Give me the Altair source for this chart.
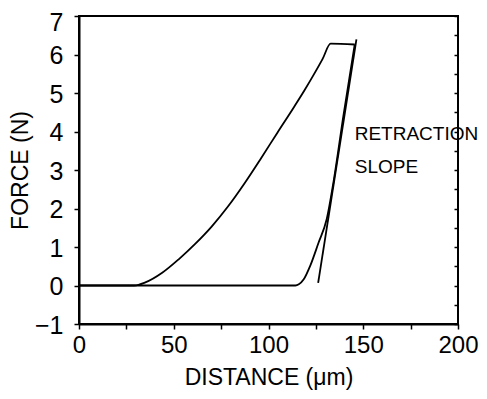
import altair as alt
import pandas as pd

# Loading curve
load_x = [0, 29.2, 35, 43.9, 52.6, 61.3, 70, 78.6, 87.3, 96, 104.7, 113.4, 119, 123.8, 128.5, 132.8, 145.5]
load_y = [0, 0, 0.08, 0.33, 0.68, 1.08, 1.53, 2.05, 2.65, 3.3, 3.97, 4.63, 5.07, 5.47, 5.88, 6.28, 6.26]

# Unloading curve
unload_x = [145.5, 139.5, 134.5, 130.7, 126.4, 122.0, 118.6, 116.0, 114.2, 0]
unload_y = [6.26, 4.4, 2.75, 1.72, 1.11, 0.51, 0.16, 0.03, 0, 0]

# Retraction slope line
slope_x = [126.2, 146.4]
slope_y = [0.07, 6.39]

x_ticks = [0, 25, 50, 75, 100, 125, 150, 175, 200]
y_ticks = [-1, 0, 1, 2, 3, 4, 5, 6, 7]
y_minor = [-1, -0.5, 0, 0.5, 1, 1.5, 2, 2.5, 3, 3.5, 4, 4.5, 5, 5.5, 6, 6.5, 7]

annotation = "RETRACTION\nSLOPE"
ann_x, ann_y = 145.5, 3.77

rows = []
for name, xs, ys in [("load", load_x, load_y), ("unload", unload_x, unload_y), ("slope", slope_x, slope_y)]:
    for i, (a, b) in enumerate(zip(xs, ys)):
        rows.append({"series": name, "i": i, "x": a, "y": b})
df = pd.DataFrame(rows)

FONT = "Liberation Sans"

xscale = alt.Scale(domain=[0, 200], nice=False, zero=False)
yscale = alt.Scale(domain=[-1, 7], nice=False, zero=False)

lines = alt.Chart(df).mark_line(color="black", strokeWidth=1.8, interpolate="monotone").encode(
    x=alt.X("x:Q", scale=xscale, axis=alt.Axis(
        values=x_ticks, labelExpr="datum.value % 50 == 0 ? datum.label : ''",
        labelFlush=False, labelFontSize=24,
        title="DISTANCE (\u03bcm)", tickSize=5, labelPadding=4, titlePadding=9,
        grid=False)),
    y=alt.Y("y:Q", scale=yscale, axis=alt.Axis(
        values=y_ticks, title="FORCE (N)", tickSize=5, labelPadding=11,
        labelFlush=False,
        labelOffset={"condition": {"test": "datum.value == 7", "value": 6}, "value": 1},
        titlePadding=2, grid=False)),
    detail="series:N",
    order="i:Q",
)

minor = alt.Chart(pd.DataFrame({"y": y_minor})).mark_point(opacity=0).encode(
    y=alt.Y("y:Q", scale=yscale, axis=alt.Axis(
        values=y_minor, offset=-4, tickSize=4, domain=False, labels=False,
        title=None, grid=False)),
)

text = alt.Chart(pd.DataFrame({"x": [ann_x], "y": [ann_y], "t": [annotation]})).mark_text(
    align="left", baseline="alphabetic", lineBreak="\n", lineHeight=33,
    font=FONT, fontSize=19, color="black",
).encode(
    x=alt.X("x:Q", scale=xscale, axis=None),
    y=alt.Y("y:Q", scale=yscale, axis=None),
    text="t:N",
)

chart = alt.layer(lines, minor, text).resolve_axis(y="independent", x="independent").properties(
    width=379, height=308,
    autosize=alt.AutoSizeParams(type="none"),
    padding={"left": 71, "top": 8, "right": 21, "bottom": 67},
).configure_view(stroke="black", strokeWidth=2).configure_axis(
    domainColor="black", domainWidth=2, tickColor="black", tickWidth=1.5,
    labelColor="black", labelFont=FONT, labelFontSize=25,
    titleColor="black", titleFont=FONT, titleFontSize=23, titleFontWeight="normal",
)

chart.save("out.html", embed_options={"renderer": "svg", "actions": False})
